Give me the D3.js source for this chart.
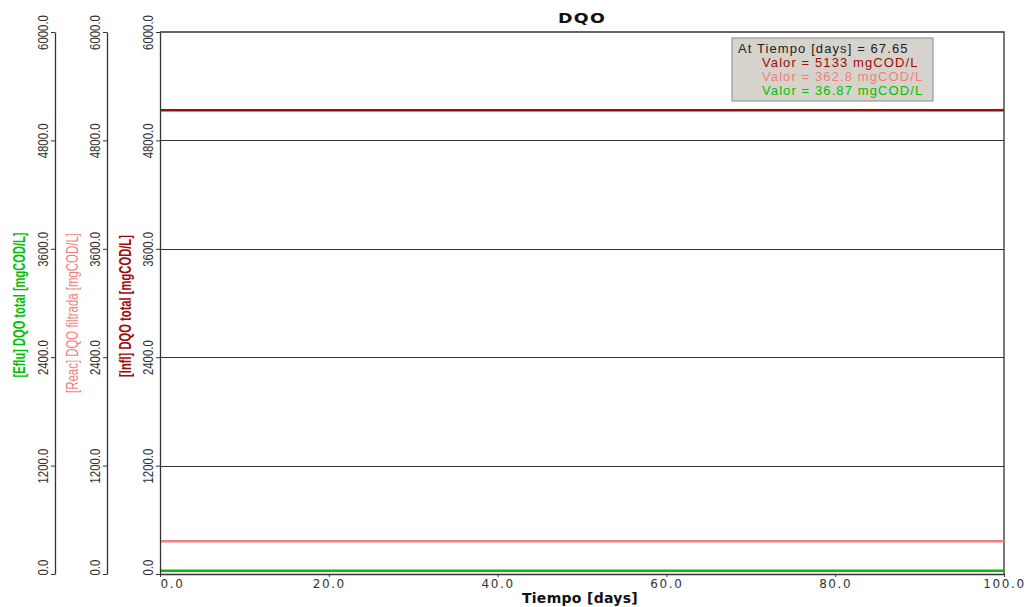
<!DOCTYPE html>
<html>
<head>
<meta charset="utf-8">
<script src="https://cdn.jsdelivr.net/npm/d3@7"></script>
<style>
  html, body { margin: 0; padding: 0; background: #fff; }
  svg { display: block; }
  .sans { font-family: "Liberation Sans", Arial, sans-serif; }
  .wide { font-family: "DejaVu Sans", Verdana, sans-serif; }
</style>
</head>
<body>
<svg id="chart" width="1027" height="607"></svg>
<script>
// Time points (days) and DQO series values (mgCOD/L)
const tiempo = [0, 100];
const inflDqoTotal = [5133, 5133];
const reacDqoFiltrada = [362.8, 362.8];
const efluDqoTotal = [36.87, 36.87];

const yTicks = [0, 1200, 2400, 3600, 4800, 6000];
const xTicks = [0, 20, 40, 60, 80, 100];

const cursorTiempo = 67.65;
const readoutValues = ["5133", "362.8", "36.87"];

const seriesNames = ["[Infl] DQO total [mgCOD/L]", "[Reac] DQO filtrada [mgCOD/L]", "[Eflu] DQO total [mgCOD/L]"];
const seriesColors = ["#9e0b0b", "#f07f7f", "#00c000"];

const svg = d3.select("#chart");
const plot = { left: 160, right: 1004, top: 32, bottom: 574 };

// One vertical axis per series, stacked to the left of the plot
const axisX = [160, 107, 55];
const titleLayout = [
  { x: 131, cy: 306, len: 142, bold: true },
  { x: 78, cy: 313, len: 160, bold: false },
  { x: 25, cy: 305, len: 145, bold: true }
];

const x = d3.scaleLinear().domain([0, 100]).range([plot.left, plot.right]);
const yScales = seriesNames.map(() => d3.scaleLinear().domain([0, 6000]).range([plot.bottom, plot.top]));

// Horizontal gridlines
svg.append("g").selectAll("line")
  .data(yTicks.filter(t => t > 0 && t < 6000))
  .join("line")
  .attr("x1", plot.left).attr("x2", plot.right)
  .attr("y1", d => Math.round(yScales[0](d)) + 0.5).attr("y2", d => Math.round(yScales[0](d)) + 0.5)
  .attr("stroke", "#333").attr("stroke-width", 1);

// Plot frame top and right
svg.append("path")
  .attr("d", `M${plot.left},${plot.top}H${plot.right}V${plot.bottom}`)
  .attr("fill", "none").attr("stroke", "#333").attr("stroke-width", 1.3);

// Series lines
const lineData = [inflDqoTotal, reacDqoFiltrada, efluDqoTotal];
lineData.forEach((vals, i) => {
  const line = d3.line().x((d, j) => x(tiempo[j])).y(d => yScales[i](d));
  svg.append("path").datum(vals)
    .attr("d", line)
    .attr("fill", "none")
    .attr("stroke", seriesColors[i])
    .attr("stroke-width", 2.5);
});

// Vertical axes with rotated, condensed tick labels
yScales.forEach((ys, i) => {
  const g = svg.append("g").attr("transform", `translate(${axisX[i]},0)`);
  const ax = d3.axisLeft(ys).tickValues(yTicks).tickSize(4).tickSizeOuter(0)
    .tickFormat(d3.format(".1f"));
  g.call(ax);
  g.select(".domain").attr("stroke", "#333").attr("stroke-width", 1.3);
  g.selectAll(".tick line").attr("stroke", "#333");
  g.selectAll(".tick text")
    .attr("class", "sans")
    .attr("font-size", 15)
    .attr("fill", "#333")
    .attr("x", null).attr("dy", null)
    .attr("text-anchor", d => d === 0 ? "start" : "middle")
    .attr("transform", d => `translate(-7,${d === 0 ? 1 : 0}) rotate(-90) scale(0.76,1)`);

  // Axis title, condensed to its slot
  const tl = titleLayout[i];
  const t = svg.append("text")
    .attr("class", "sans")
    .attr("text-anchor", "middle")
    .attr("font-size", 16)
    .attr("font-weight", tl.bold ? "bold" : "normal")
    .attr("fill", seriesColors[i])
    .text(seriesNames[i]);
  const k = tl.len / t.node().getComputedTextLength();
  t.attr("transform", `translate(${tl.x},${tl.cy}) rotate(-90) scale(${k},1)`);
});

// Time axis
const gx = svg.append("g").attr("transform", `translate(0,${plot.bottom})`);
gx.call(d3.axisBottom(x).tickValues(xTicks).tickSize(3).tickSizeOuter(0).tickFormat(d3.format(".1f")));
gx.select(".domain").attr("stroke", "#333").attr("stroke-width", 1.3);
gx.selectAll(".tick line").attr("stroke", "#333");
gx.selectAll(".tick text")
  .attr("class", "wide")
  .attr("font-size", 12)
  .attr("letter-spacing", 1.6)
  .attr("fill", "#333")
  .attr("y", 14).attr("dy", null)
  .attr("text-anchor", d => d === 0 ? "start" : "middle");

svg.append("text")
  .attr("class", "wide")
  .attr("x", 580).attr("y", 603)
  .attr("text-anchor", "middle")
  .attr("font-size", 14).attr("font-weight", "bold")
  .attr("letter-spacing", 0.3)
  .attr("fill", "#111")
  .text("Tiempo [days]");

// Title
svg.append("text")
  .attr("class", "wide")
  .attr("text-anchor", "middle")
  .attr("font-size", 14).attr("font-weight", "bold")
  .attr("letter-spacing", 1)
  .attr("fill", "#111")
  .attr("transform", "translate(582,23) scale(1.25,1)")
  .text("DQO");

// Cursor readout box
const box = svg.append("g").attr("transform", "translate(732,38)");
box.append("rect")
  .attr("width", 201).attr("height", 63)
  .attr("fill", "#d6d3cc").attr("stroke", "#999").attr("stroke-width", 1.2);
const lines = [
  { t: `At Tiempo [days] = ${cursorTiempo}`, c: "#222", dx: 6 },
  ...readoutValues.map((v, i) => ({ t: `Valor = ${v} mgCOD/L`, c: seriesColors[i], dx: 30 }))
];
box.selectAll("text").data(lines).join("text")
  .attr("class", "sans")
  .attr("font-size", 13)
  .attr("letter-spacing", 1.1)
  .attr("x", d => d.dx)
  .attr("y", (d, i) => 15 + i * 14)
  .attr("fill", d => d.c)
  .text(d => d.t);
</script>
</body>
</html>
